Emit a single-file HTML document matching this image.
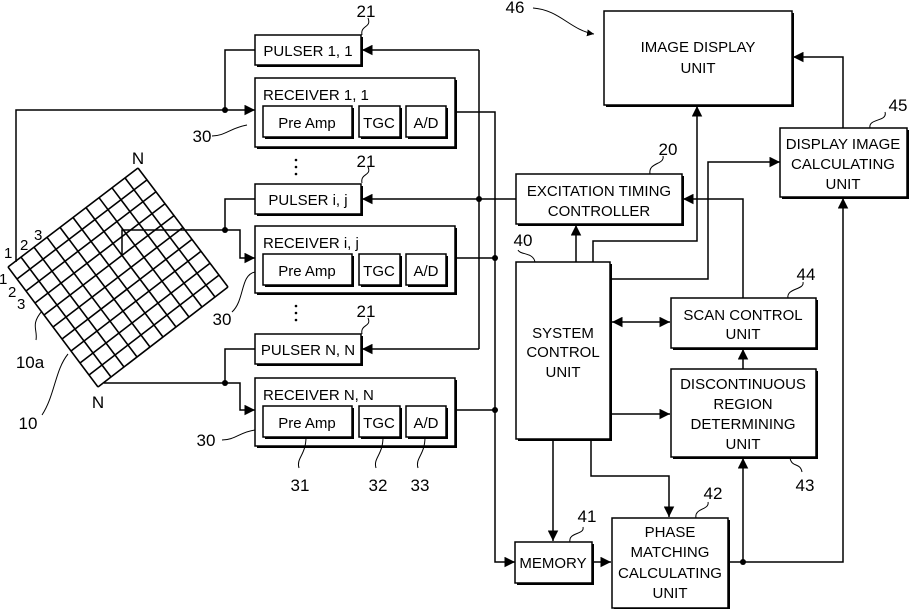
<!DOCTYPE html>
<html><head><meta charset="utf-8"><style>
body{margin:0;background:#fff}
svg{display:block}
text{font-family:"Liberation Sans",sans-serif;fill:#000}
.b{font-size:15px}
.l{font-size:17px}
</style></head><body>
<svg id="s" width="910" height="609" viewBox="0 0 910 609" xmlns="http://www.w3.org/2000/svg">
<defs>
<marker id="a" viewBox="0 0 10 10" refX="10" refY="5" markerWidth="7" markerHeight="7" orient="auto-start-reverse"><path d="M0,0L10,5L0,10z" fill="#000"/></marker>
</defs>
<g fill="none" stroke="#000" stroke-width="1.5" id="g">
<!-- boxes with shadow -->
<g id="boxes"></g>
<!-- left connections -->
<polyline points="255,50 225,50 225,110"/>
<polyline points="16,262 16,110 255,110" marker-end="url(#a)"/>
<polyline points="255,199 225,199 225,230"/>
<polyline points="122,256 122,230 225,230 240,230 240,258 255,258" marker-end="url(#a)"/>
<polyline points="255,349 225,349 225,381"/>
<polyline points="104,383 225,383 240,383 240,410 255,410" marker-end="url(#a)"/>
<!-- pulser feed bus -->
<polyline points="479,50 479,349"/>
<line x1="479" y1="50" x2="362" y2="50" marker-end="url(#a)"/>
<line x1="479" y1="199" x2="362" y2="199" marker-end="url(#a)"/>
<line x1="479" y1="349" x2="362" y2="349" marker-end="url(#a)"/>
<line x1="516" y1="199" x2="479" y2="199"/>
<!-- receiver output bus -->
<polyline points="456,112 495,112 495,562 515,562" marker-end="url(#a)"/>
<line x1="456" y1="258" x2="495" y2="258"/>
<line x1="456" y1="410" x2="495" y2="410"/>
<!-- right side -->
<polyline points="843,128 843,57 793,57" marker-end="url(#a)"/>
<polyline points="743,298 743,199 683,199" marker-end="url(#a)"/>
<line x1="576" y1="262" x2="576" y2="225" marker-end="url(#a)"/>
<polyline points="593,262 593,241 697,241 697,106" marker-end="url(#a)"/>
<polyline points="610,279 708,279 708,162 780,162" marker-end="url(#a)"/>
<line x1="612" y1="322" x2="670" y2="322" marker-end="url(#a)" marker-start="url(#a)"/>
<line x1="743" y1="369" x2="743" y2="349" marker-end="url(#a)"/>
<line x1="610" y1="414" x2="670" y2="414" marker-end="url(#a)"/>
<line x1="553" y1="439" x2="553" y2="541" marker-end="url(#a)"/>
<polyline points="591,439 591,476 669,476 669,517" marker-end="url(#a)"/>
<line x1="592" y1="562" x2="611" y2="562" marker-end="url(#a)"/>
<polyline points="728,562 843,562 843,198" marker-end="url(#a)"/>
<line x1="743" y1="562" x2="743" y2="458" marker-end="url(#a)"/>
<!-- leaders -->
<path d="M247,125 C230,128 225,136 212,136" stroke-width="1"/>
<path d="M255,272 C240,275 245,300 232,312" stroke-width="1"/>
<path d="M255,430 C240,432 235,440 222,440" stroke-width="1"/>
<path d="M362,35 C360,25 372,28 368,18" stroke-width="1"/>
<path d="M362,183 C360,173 372,176 368,167" stroke-width="1"/>
<path d="M362,334 C360,324 372,327 368,318" stroke-width="1"/>
<path d="M306,437 C306,455 296,458 299,468" stroke-width="1"/>
<path d="M383,437 C383,455 373,458 376,468" stroke-width="1"/>
<path d="M425,437 C425,455 415,458 418,468" stroke-width="1"/>
<path d="M42,311 C30,325 38,330 36,340" stroke-width="1"/>
<path d="M68,354 C55,370 55,395 42,415" stroke-width="1"/>
<path d="M533,8 C560,10 570,30 594,34" stroke-width="1" marker-end="url(#a)"/>
<path d="M650,174 C648,162 665,165 663,156" stroke-width="1"/>
<path d="M535,262 C533,252 520,255 518,250" stroke-width="1"/>
<path d="M788,298 C786,288 805,290 803,282" stroke-width="1"/>
<path d="M870,128 C868,118 888,122 885,112" stroke-width="1"/>
<path d="M790,458 C792,468 800,462 802,472" stroke-width="1"/>
<path d="M570,542 C568,532 585,535 583,527" stroke-width="1"/>
<path d="M696,518 C694,508 710,510 708,502" stroke-width="1"/>
<g id="grid" stroke-width="1.6"></g>
</g>
<g fill="#000">
<circle cx="225" cy="110" r="3"/><circle cx="225" cy="230" r="3"/><circle cx="225" cy="383" r="3"/>
<circle cx="479" cy="199" r="3"/><circle cx="495" cy="258" r="3"/><circle cx="495" cy="410" r="3"/>
<circle cx="743" cy="562" r="3"/>
<circle cx="296" cy="160" r="1.3"/><circle cx="296" cy="167" r="1.3"/><circle cx="296" cy="174" r="1.3"/>
<circle cx="296" cy="306" r="1.3"/><circle cx="296" cy="313" r="1.3"/><circle cx="296" cy="320" r="1.3"/>
</g>
<g class="b" text-anchor="middle">
<text x="308" y="56">PULSER 1, 1</text>
<text x="308" y="205">PULSER i, j</text>
<text x="308" y="355">PULSER N, N</text>
<text x="263" y="100" text-anchor="start">RECEIVER 1, 1</text>
<text x="263" y="248" text-anchor="start">RECEIVER i, j</text>
<text x="263" y="400" text-anchor="start">RECEIVER N, N</text>
<text x="307" y="128">Pre Amp</text><text x="379" y="128">TGC</text><text x="426" y="128">A/D</text>
<text x="307" y="276">Pre Amp</text><text x="379" y="276">TGC</text><text x="426" y="276">A/D</text>
<text x="307" y="428">Pre Amp</text><text x="379" y="428">TGC</text><text x="426" y="428">A/D</text>
<text x="698" y="52">IMAGE DISPLAY</text><text x="698" y="73">UNIT</text>
<text x="843" y="149">DISPLAY IMAGE</text><text x="843" y="169">CALCULATING</text><text x="843" y="189">UNIT</text>
<text x="599" y="196">EXCITATION TIMING</text><text x="599" y="216">CONTROLLER</text>
<text x="563" y="338">SYSTEM</text><text x="563" y="357">CONTROL</text><text x="563" y="377">UNIT</text>
<text x="743" y="320">SCAN CONTROL</text><text x="743" y="339">UNIT</text>
<text x="743" y="389">DISCONTINUOUS</text><text x="743" y="409">REGION</text><text x="743" y="429">DETERMINING</text><text x="743" y="449">UNIT</text>
<text x="553" y="568">MEMORY</text>
<text x="670" y="537">PHASE</text><text x="670" y="557">MATCHING</text><text x="670" y="578">CALCULATING</text><text x="670" y="598">UNIT</text>
</g>
<g class="l" text-anchor="middle">
<text x="366" y="17">21</text><text x="366" y="167">21</text><text x="366" y="317">21</text>
<text x="202" y="142">30</text><text x="222" y="325">30</text><text x="206" y="446">30</text>
<text x="300" y="491">31</text><text x="378" y="491">32</text><text x="420" y="491">33</text>
<text x="138" y="164">N</text><text x="98" y="408">N</text>
<text x="30" y="368">10a</text><text x="28" y="429">10</text>
<text x="515" y="13">46</text><text x="668" y="155">20</text><text x="523" y="246">40</text>
<text x="806" y="280">44</text><text x="898" y="111">45</text><text x="805" y="491">43</text>
<text x="587" y="522">41</text><text x="713" y="499">42</text>
</g>
<g style="font-size:15px">
<text x="4" y="258">1</text><text x="20" y="250">2</text><text x="34" y="240">3</text>
<text x="-1" y="284">1</text><text x="8" y="297">2</text><text x="17" y="309">3</text>
</g>
</svg>
<script>
var ns="http://www.w3.org/2000/svg";
function el(p,t,a){var e=document.createElementNS(ns,t);for(var k in a)e.setAttribute(k,a[k]);p.appendChild(e);return e;}
var B=document.getElementById("boxes");
function box(x,y,w,h){el(B,"rect",{x:x+2,y:y+2,width:w,height:h,fill:"#000",stroke:"none"});el(B,"rect",{x:x,y:y,width:w,height:h,fill:"#fff"});}
[[255,35,106,30],[255,184,106,30],[255,334,106,30],[255,78,200,69],[255,226,200,67],[255,378,200,68]].forEach(function(b){box.apply(null,b)});
[78,226,378].forEach(function(y){box(263,y+28,89,31);box(359,y+28,41,31);box(406,y+28,40,31);});
[[604,11,188,94],[780,128,127,69],[516,174,166,50],[516,262,94,177],[671,298,145,50],[671,369,145,88],[515,542,77,41],[612,518,116,90]].forEach(function(b){box.apply(null,b)});
var G=document.getElementById("grid");
var L=[8,267],T=[138,168],R=[228,287],D=[98,387],n=10;
for(var i=0;i<=n;i++){var t=i/n;
el(G,"line",{x1:L[0]+(T[0]-L[0])*t,y1:L[1]+(T[1]-L[1])*t,x2:D[0]+(R[0]-D[0])*t,y2:D[1]+(R[1]-D[1])*t});
el(G,"line",{x1:L[0]+(D[0]-L[0])*t,y1:L[1]+(D[1]-L[1])*t,x2:T[0]+(R[0]-T[0])*t,y2:T[1]+(R[1]-T[1])*t});}
</script>
</body></html>
